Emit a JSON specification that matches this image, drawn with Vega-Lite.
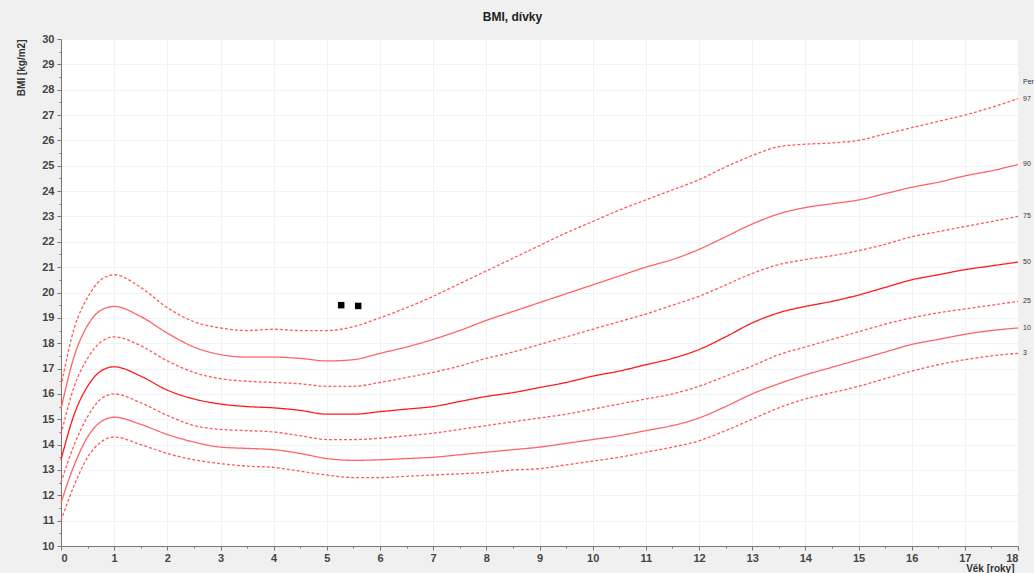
{
  "$schema": "https://vega.github.io/schema/vega-lite/v6.json",
  "width": 957,
  "height": 507,
  "autosize": "none",
  "padding": {"left": 61, "top": 39, "right": 16, "bottom": 27},
  "background": "#f0f0f0",
  "view": {"fill": "white", "stroke": null},
  "title": {"text": "BMI, dívky", "anchor": "middle", "frame": "group", "dx": -27, "offset": 9, "fontSize": 12, "fontWeight": "bold", "color": "#222", "font": "Liberation Sans"},
  "config": {
    "font": "Liberation Sans",
    "axis": {
      "domainColor": "#777",
      "tickColor": "#777",
      "gridColor": "#eef2f9",
      "labelFont": "Liberation Sans",
      "labelFontSize": 11,
      "labelFontWeight": "bold",
      "labelColor": "#444",
      "titleFont": "Liberation Sans",
      "titleFontSize": 10,
      "titleFontWeight": "bold",
      "titleColor": "#333"
    }
  },
  "datasets": {
    "curves": [
      {"age": 0, "p": "97", "bmi": 16.3}, {"age": 0.25, "p": "97", "bmi": 18.6}, {"age": 0.5, "p": "97", "bmi": 19.8}, {"age": 0.75, "p": "97", "bmi": 20.5}, {"age": 1, "p": "97", "bmi": 20.7}, {"age": 1.5, "p": "97", "bmi": 20.2}, {"age": 2, "p": "97", "bmi": 19.4}, {"age": 2.5, "p": "97", "bmi": 18.85}, {"age": 3, "p": "97", "bmi": 18.6}, {"age": 3.5, "p": "97", "bmi": 18.5}, {"age": 4, "p": "97", "bmi": 18.55}, {"age": 4.5, "p": "97", "bmi": 18.5}, {"age": 5, "p": "97", "bmi": 18.5}, {"age": 5.5, "p": "97", "bmi": 18.65}, {"age": 6, "p": "97", "bmi": 19.0}, {"age": 6.5, "p": "97", "bmi": 19.4}, {"age": 7, "p": "97", "bmi": 19.85}, {"age": 7.5, "p": "97", "bmi": 20.35}, {"age": 8, "p": "97", "bmi": 20.85}, {"age": 8.5, "p": "97", "bmi": 21.35}, {"age": 9, "p": "97", "bmi": 21.85}, {"age": 9.5, "p": "97", "bmi": 22.35}, {"age": 10, "p": "97", "bmi": 22.8}, {"age": 10.5, "p": "97", "bmi": 23.25}, {"age": 11, "p": "97", "bmi": 23.65}, {"age": 11.5, "p": "97", "bmi": 24.05}, {"age": 12, "p": "97", "bmi": 24.45}, {"age": 12.5, "p": "97", "bmi": 24.95}, {"age": 13, "p": "97", "bmi": 25.4}, {"age": 13.5, "p": "97", "bmi": 25.75}, {"age": 14, "p": "97", "bmi": 25.85}, {"age": 14.5, "p": "97", "bmi": 25.9}, {"age": 15, "p": "97", "bmi": 26.0}, {"age": 15.5, "p": "97", "bmi": 26.25}, {"age": 16, "p": "97", "bmi": 26.5}, {"age": 16.5, "p": "97", "bmi": 26.75}, {"age": 17, "p": "97", "bmi": 27.0}, {"age": 17.5, "p": "97", "bmi": 27.3}, {"age": 18, "p": "97", "bmi": 27.65},
      {"age": 0, "p": "90", "bmi": 15.4}, {"age": 0.25, "p": "90", "bmi": 17.5}, {"age": 0.5, "p": "90", "bmi": 18.7}, {"age": 0.75, "p": "90", "bmi": 19.3}, {"age": 1, "p": "90", "bmi": 19.45}, {"age": 1.5, "p": "90", "bmi": 19.05}, {"age": 2, "p": "90", "bmi": 18.4}, {"age": 2.5, "p": "90", "bmi": 17.85}, {"age": 3, "p": "90", "bmi": 17.55}, {"age": 3.5, "p": "90", "bmi": 17.45}, {"age": 4, "p": "90", "bmi": 17.45}, {"age": 4.5, "p": "90", "bmi": 17.4}, {"age": 5, "p": "90", "bmi": 17.3}, {"age": 5.5, "p": "90", "bmi": 17.35}, {"age": 6, "p": "90", "bmi": 17.6}, {"age": 6.5, "p": "90", "bmi": 17.85}, {"age": 7, "p": "90", "bmi": 18.15}, {"age": 7.5, "p": "90", "bmi": 18.5}, {"age": 8, "p": "90", "bmi": 18.9}, {"age": 8.5, "p": "90", "bmi": 19.25}, {"age": 9, "p": "90", "bmi": 19.6}, {"age": 9.5, "p": "90", "bmi": 19.95}, {"age": 10, "p": "90", "bmi": 20.3}, {"age": 10.5, "p": "90", "bmi": 20.65}, {"age": 11, "p": "90", "bmi": 21.0}, {"age": 11.5, "p": "90", "bmi": 21.3}, {"age": 12, "p": "90", "bmi": 21.7}, {"age": 12.5, "p": "90", "bmi": 22.2}, {"age": 13, "p": "90", "bmi": 22.7}, {"age": 13.5, "p": "90", "bmi": 23.1}, {"age": 14, "p": "90", "bmi": 23.35}, {"age": 14.5, "p": "90", "bmi": 23.5}, {"age": 15, "p": "90", "bmi": 23.65}, {"age": 15.5, "p": "90", "bmi": 23.9}, {"age": 16, "p": "90", "bmi": 24.15}, {"age": 16.5, "p": "90", "bmi": 24.35}, {"age": 17, "p": "90", "bmi": 24.6}, {"age": 17.5, "p": "90", "bmi": 24.8}, {"age": 18, "p": "90", "bmi": 25.05},
      {"age": 0, "p": "75", "bmi": 14.4}, {"age": 0.25, "p": "75", "bmi": 16.3}, {"age": 0.5, "p": "75", "bmi": 17.4}, {"age": 0.75, "p": "75", "bmi": 18.05}, {"age": 1, "p": "75", "bmi": 18.25}, {"age": 1.5, "p": "75", "bmi": 17.9}, {"age": 2, "p": "75", "bmi": 17.3}, {"age": 2.5, "p": "75", "bmi": 16.85}, {"age": 3, "p": "75", "bmi": 16.6}, {"age": 3.5, "p": "75", "bmi": 16.5}, {"age": 4, "p": "75", "bmi": 16.45}, {"age": 4.5, "p": "75", "bmi": 16.4}, {"age": 5, "p": "75", "bmi": 16.3}, {"age": 5.5, "p": "75", "bmi": 16.3}, {"age": 6, "p": "75", "bmi": 16.45}, {"age": 6.5, "p": "75", "bmi": 16.65}, {"age": 7, "p": "75", "bmi": 16.85}, {"age": 7.5, "p": "75", "bmi": 17.1}, {"age": 8, "p": "75", "bmi": 17.4}, {"age": 8.5, "p": "75", "bmi": 17.65}, {"age": 9, "p": "75", "bmi": 17.95}, {"age": 9.5, "p": "75", "bmi": 18.25}, {"age": 10, "p": "75", "bmi": 18.55}, {"age": 10.5, "p": "75", "bmi": 18.85}, {"age": 11, "p": "75", "bmi": 19.15}, {"age": 11.5, "p": "75", "bmi": 19.5}, {"age": 12, "p": "75", "bmi": 19.85}, {"age": 12.5, "p": "75", "bmi": 20.3}, {"age": 13, "p": "75", "bmi": 20.75}, {"age": 13.5, "p": "75", "bmi": 21.1}, {"age": 14, "p": "75", "bmi": 21.3}, {"age": 14.5, "p": "75", "bmi": 21.45}, {"age": 15, "p": "75", "bmi": 21.65}, {"age": 15.5, "p": "75", "bmi": 21.9}, {"age": 16, "p": "75", "bmi": 22.2}, {"age": 16.5, "p": "75", "bmi": 22.4}, {"age": 17, "p": "75", "bmi": 22.6}, {"age": 17.5, "p": "75", "bmi": 22.8}, {"age": 18, "p": "75", "bmi": 23.0},
      {"age": 0, "p": "50", "bmi": 13.4}, {"age": 0.25, "p": "50", "bmi": 15.2}, {"age": 0.5, "p": "50", "bmi": 16.3}, {"age": 0.75, "p": "50", "bmi": 16.9}, {"age": 1, "p": "50", "bmi": 17.07}, {"age": 1.5, "p": "50", "bmi": 16.7}, {"age": 2, "p": "50", "bmi": 16.15}, {"age": 2.5, "p": "50", "bmi": 15.8}, {"age": 3, "p": "50", "bmi": 15.6}, {"age": 3.5, "p": "50", "bmi": 15.5}, {"age": 4, "p": "50", "bmi": 15.45}, {"age": 4.5, "p": "50", "bmi": 15.35}, {"age": 5, "p": "50", "bmi": 15.2}, {"age": 5.5, "p": "50", "bmi": 15.2}, {"age": 6, "p": "50", "bmi": 15.3}, {"age": 6.5, "p": "50", "bmi": 15.4}, {"age": 7, "p": "50", "bmi": 15.5}, {"age": 7.5, "p": "50", "bmi": 15.7}, {"age": 8, "p": "50", "bmi": 15.9}, {"age": 8.5, "p": "50", "bmi": 16.05}, {"age": 9, "p": "50", "bmi": 16.25}, {"age": 9.5, "p": "50", "bmi": 16.45}, {"age": 10, "p": "50", "bmi": 16.7}, {"age": 10.5, "p": "50", "bmi": 16.9}, {"age": 11, "p": "50", "bmi": 17.15}, {"age": 11.5, "p": "50", "bmi": 17.4}, {"age": 12, "p": "50", "bmi": 17.75}, {"age": 12.5, "p": "50", "bmi": 18.25}, {"age": 13, "p": "50", "bmi": 18.8}, {"age": 13.5, "p": "50", "bmi": 19.2}, {"age": 14, "p": "50", "bmi": 19.45}, {"age": 14.5, "p": "50", "bmi": 19.65}, {"age": 15, "p": "50", "bmi": 19.9}, {"age": 15.5, "p": "50", "bmi": 20.2}, {"age": 16, "p": "50", "bmi": 20.5}, {"age": 16.5, "p": "50", "bmi": 20.7}, {"age": 17, "p": "50", "bmi": 20.9}, {"age": 17.5, "p": "50", "bmi": 21.05}, {"age": 18, "p": "50", "bmi": 21.2},
      {"age": 0, "p": "25", "bmi": 12.5}, {"age": 0.25, "p": "25", "bmi": 14.0}, {"age": 0.5, "p": "25", "bmi": 15.1}, {"age": 0.75, "p": "25", "bmi": 15.8}, {"age": 1, "p": "25", "bmi": 16.0}, {"age": 1.5, "p": "25", "bmi": 15.65}, {"age": 2, "p": "25", "bmi": 15.15}, {"age": 2.5, "p": "25", "bmi": 14.75}, {"age": 3, "p": "25", "bmi": 14.6}, {"age": 3.5, "p": "25", "bmi": 14.55}, {"age": 4, "p": "25", "bmi": 14.5}, {"age": 4.5, "p": "25", "bmi": 14.35}, {"age": 5, "p": "25", "bmi": 14.2}, {"age": 5.5, "p": "25", "bmi": 14.2}, {"age": 6, "p": "25", "bmi": 14.25}, {"age": 6.5, "p": "25", "bmi": 14.35}, {"age": 7, "p": "25", "bmi": 14.45}, {"age": 7.5, "p": "25", "bmi": 14.6}, {"age": 8, "p": "25", "bmi": 14.75}, {"age": 8.5, "p": "25", "bmi": 14.9}, {"age": 9, "p": "25", "bmi": 15.05}, {"age": 9.5, "p": "25", "bmi": 15.2}, {"age": 10, "p": "25", "bmi": 15.4}, {"age": 10.5, "p": "25", "bmi": 15.6}, {"age": 11, "p": "25", "bmi": 15.8}, {"age": 11.5, "p": "25", "bmi": 16.0}, {"age": 12, "p": "25", "bmi": 16.3}, {"age": 12.5, "p": "25", "bmi": 16.7}, {"age": 13, "p": "25", "bmi": 17.1}, {"age": 13.5, "p": "25", "bmi": 17.55}, {"age": 14, "p": "25", "bmi": 17.85}, {"age": 14.5, "p": "25", "bmi": 18.15}, {"age": 15, "p": "25", "bmi": 18.45}, {"age": 15.5, "p": "25", "bmi": 18.75}, {"age": 16, "p": "25", "bmi": 19.0}, {"age": 16.5, "p": "25", "bmi": 19.2}, {"age": 17, "p": "25", "bmi": 19.35}, {"age": 17.5, "p": "25", "bmi": 19.5}, {"age": 18, "p": "25", "bmi": 19.65},
      {"age": 0, "p": "10", "bmi": 11.7}, {"age": 0.25, "p": "10", "bmi": 13.2}, {"age": 0.5, "p": "10", "bmi": 14.3}, {"age": 0.75, "p": "10", "bmi": 14.9}, {"age": 1, "p": "10", "bmi": 15.08}, {"age": 1.5, "p": "10", "bmi": 14.8}, {"age": 2, "p": "10", "bmi": 14.4}, {"age": 2.5, "p": "10", "bmi": 14.1}, {"age": 3, "p": "10", "bmi": 13.9}, {"age": 3.5, "p": "10", "bmi": 13.85}, {"age": 4, "p": "10", "bmi": 13.8}, {"age": 4.5, "p": "10", "bmi": 13.65}, {"age": 5, "p": "10", "bmi": 13.45}, {"age": 5.5, "p": "10", "bmi": 13.38}, {"age": 6, "p": "10", "bmi": 13.4}, {"age": 6.5, "p": "10", "bmi": 13.45}, {"age": 7, "p": "10", "bmi": 13.5}, {"age": 7.5, "p": "10", "bmi": 13.6}, {"age": 8, "p": "10", "bmi": 13.7}, {"age": 8.5, "p": "10", "bmi": 13.8}, {"age": 9, "p": "10", "bmi": 13.9}, {"age": 9.5, "p": "10", "bmi": 14.05}, {"age": 10, "p": "10", "bmi": 14.2}, {"age": 10.5, "p": "10", "bmi": 14.35}, {"age": 11, "p": "10", "bmi": 14.55}, {"age": 11.5, "p": "10", "bmi": 14.75}, {"age": 12, "p": "10", "bmi": 15.05}, {"age": 12.5, "p": "10", "bmi": 15.5}, {"age": 13, "p": "10", "bmi": 16.0}, {"age": 13.5, "p": "10", "bmi": 16.4}, {"age": 14, "p": "10", "bmi": 16.75}, {"age": 14.5, "p": "10", "bmi": 17.05}, {"age": 15, "p": "10", "bmi": 17.35}, {"age": 15.5, "p": "10", "bmi": 17.65}, {"age": 16, "p": "10", "bmi": 17.95}, {"age": 16.5, "p": "10", "bmi": 18.15}, {"age": 17, "p": "10", "bmi": 18.35}, {"age": 17.5, "p": "10", "bmi": 18.5}, {"age": 18, "p": "10", "bmi": 18.6},
      {"age": 0, "p": "3", "bmi": 11.0}, {"age": 0.25, "p": "3", "bmi": 12.4}, {"age": 0.5, "p": "3", "bmi": 13.5}, {"age": 0.75, "p": "3", "bmi": 14.1}, {"age": 1, "p": "3", "bmi": 14.3}, {"age": 1.5, "p": "3", "bmi": 14.0}, {"age": 2, "p": "3", "bmi": 13.65}, {"age": 2.5, "p": "3", "bmi": 13.4}, {"age": 3, "p": "3", "bmi": 13.25}, {"age": 3.5, "p": "3", "bmi": 13.15}, {"age": 4, "p": "3", "bmi": 13.1}, {"age": 4.5, "p": "3", "bmi": 12.95}, {"age": 5, "p": "3", "bmi": 12.8}, {"age": 5.5, "p": "3", "bmi": 12.7}, {"age": 6, "p": "3", "bmi": 12.7}, {"age": 6.5, "p": "3", "bmi": 12.75}, {"age": 7, "p": "3", "bmi": 12.8}, {"age": 7.5, "p": "3", "bmi": 12.85}, {"age": 8, "p": "3", "bmi": 12.9}, {"age": 8.5, "p": "3", "bmi": 13.0}, {"age": 9, "p": "3", "bmi": 13.05}, {"age": 9.5, "p": "3", "bmi": 13.2}, {"age": 10, "p": "3", "bmi": 13.35}, {"age": 10.5, "p": "3", "bmi": 13.5}, {"age": 11, "p": "3", "bmi": 13.7}, {"age": 11.5, "p": "3", "bmi": 13.9}, {"age": 12, "p": "3", "bmi": 14.15}, {"age": 12.5, "p": "3", "bmi": 14.55}, {"age": 13, "p": "3", "bmi": 15.0}, {"age": 13.5, "p": "3", "bmi": 15.45}, {"age": 14, "p": "3", "bmi": 15.8}, {"age": 14.5, "p": "3", "bmi": 16.05}, {"age": 15, "p": "3", "bmi": 16.3}, {"age": 15.5, "p": "3", "bmi": 16.6}, {"age": 16, "p": "3", "bmi": 16.9}, {"age": 16.5, "p": "3", "bmi": 17.15}, {"age": 17, "p": "3", "bmi": 17.35}, {"age": 17.5, "p": "3", "bmi": 17.5}, {"age": 18, "p": "3", "bmi": 17.6}
    ],
    "points": [
      {"age": 5.27, "bmi": 19.5},
      {"age": 5.59, "bmi": 19.47}
    ],
    "labels": [
      {"age": 18, "bmi": 28.3, "label": "Per"},
      {"age": 18, "bmi": 27.65, "label": "97"},
      {"age": 18, "bmi": 25.05, "label": "90"},
      {"age": 18, "bmi": 23.0, "label": "75"},
      {"age": 18, "bmi": 21.2, "label": "50"},
      {"age": 18, "bmi": 19.65, "label": "25"},
      {"age": 18, "bmi": 18.6, "label": "10"},
      {"age": 18, "bmi": 17.6, "label": "3"}
    ]
  },
  "layer": [
    {
      "data": {"name": "curves"},
      "mark": {"type": "line", "interpolate": "monotone"},
      "encoding": {
        "x": {
          "field": "age", "type": "quantitative",
          "scale": {"domain": [0, 18], "nice": false, "zero": false},
          "axis": {
            "title": "Věk [roky]",
            "titleAnchor": "end",
            "titlePadding": 0,
            "titleX": 953,
            "titleAlign": "right",
            "labelOverlap": false,
            "tickCount": 200,
            "values": [0,0.5,1,1.5,2,2.5,3,3.5,4,4.5,5,5.5,6,6.5,7,7.5,8,8.5,9,9.5,10,10.5,11,11.5,12,12.5,13,13.5,14,14.5,15,15.5,16,16.5,17,17.5,18],
            "labelExpr": "datum.value % 1 === 0 ? format(datum.value, 'd') : ''",
            "tickSize": {"condition": {"test": "datum.value % 1 !== 0", "value": 2}, "value": 4},
            "gridOpacity": {"condition": {"test": "datum.value % 1 !== 0", "value": 0}, "value": 1},
            "labelPadding": 2
          }
        },
        "y": {
          "field": "bmi", "type": "quantitative",
          "scale": {"domain": [10, 30], "nice": false, "zero": false},
          "axis": {
            "title": "BMI [kg/m2]",
            "titleAnchor": "end",
            "titlePadding": 15,
            "labelOverlap": false,
            "tickCount": 200,
            "values": [10,10.5,11,11.5,12,12.5,13,13.5,14,14.5,15,15.5,16,16.5,17,17.5,18,18.5,19,19.5,20,20.5,21,21.5,22,22.5,23,23.5,24,24.5,25,25.5,26,26.5,27,27.5,28,28.5,29,29.5,30],
            "labelExpr": "datum.value % 1 === 0 ? format(datum.value, 'd') : ''",
            "tickSize": {"condition": {"test": "datum.value % 1 !== 0", "value": 2}, "value": 4},
            "gridOpacity": {"condition": {"test": "datum.value % 1 !== 0", "value": 0}, "value": 1},
            "labelPadding": 3
          }
        },
        "detail": {"field": "p"},
        "color": {"field": "p", "type": "nominal", "legend": null,
          "scale": {"domain": ["97","90","75","50","25","10","3"], "range": ["#ff5a5a","#ff6464","#ff5a5a","#ff1a1a","#ff5a5a","#ff6464","#ff5a5a"]}},
        "strokeDash": {"field": "p", "type": "nominal", "legend": null,
          "scale": {"domain": ["97","90","75","50","25","10","3"], "range": [[3,2],[1,0],[3,2],[1,0],[3,2],[1,0],[3,2]]}},
        "strokeWidth": {"field": "p", "type": "nominal", "legend": null,
          "scale": {"domain": ["97","90","75","50","25","10","3"], "range": [1.3,1.3,1.3,2.6,1.3,1.3,1.3]}}
      }
    },
    {
      "data": {"name": "points"},
      "mark": {"type": "point", "shape": "square", "filled": true, "color": "black", "opacity": 1, "size": 42},
      "encoding": {
        "x": {"field": "age", "type": "quantitative"},
        "y": {"field": "bmi", "type": "quantitative"}
      }
    },
    {
      "data": {"name": "labels"},
      "mark": {"type": "text", "align": "left", "baseline": "middle", "dx": 5, "fontSize": 7, "color": "#333", "font": "Liberation Sans"},
      "encoding": {
        "x": {"field": "age", "type": "quantitative"},
        "y": {"field": "bmi", "type": "quantitative"},
        "text": {"field": "label"}
      }
    }
  ]
}
